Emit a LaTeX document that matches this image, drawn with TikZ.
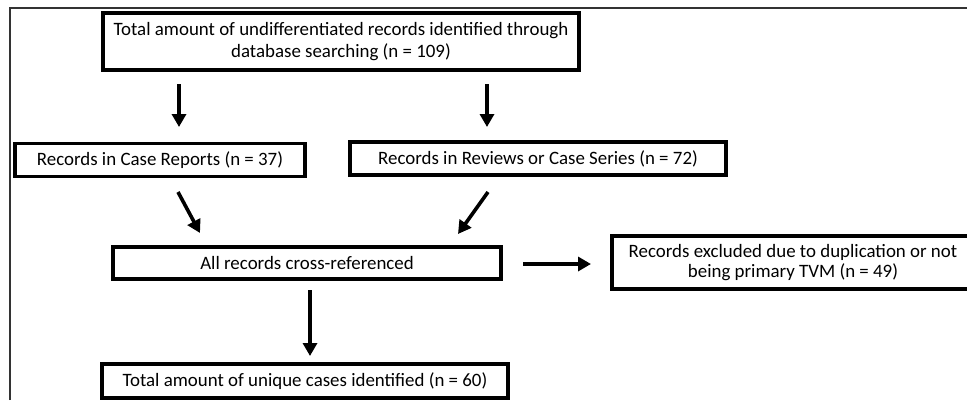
\documentclass[tikz,border=0pt]{standalone}
\usepackage{fontspec}
\setmainfont{Carlito}
\usetikzlibrary{arrows.meta}
\begin{document}
\begin{tikzpicture}[x=1pt,y=-1pt,
  box/.style={draw=black,line width=3.2pt,rectangle,inner sep=0pt,align=center,
    font=\fontsize{18.9}{22}\selectfont,text=black},
  arr/.style={line width=3.6pt,-{Triangle[width=14pt,length=13pt]}}]
\useasboundingbox (0,0) rectangle (967,400);
\draw[line width=1.8pt,black!80] (10,400) -- (10,8) -- (967,8);
\node[box,minimum width=476pt,minimum height=57pt] (top) at (341,41.5)
  {Total amount of undifferentiated records identified through\\database searching (n = 109)};
\node[box,minimum width=290pt,minimum height=33pt] (cr) at (160,160) {Records in Case Reports (n = 37)};
\node[box,minimum width=376pt,minimum height=33pt] (rv) at (538,158.5) {Records in Reviews or Case Series (n = 72)};
\node[box,minimum width=388pt,minimum height=32pt] (all) at (307,263) {All records cross-referenced};
\node[box,minimum width=362pt,minimum height=53pt] (ex) at (793,262.5)
  {\raisebox{-2pt}{\shortstack{Records excluded due to duplication or not\\being primary TVM (n = 49)}}};
\node[box,minimum width=406pt,minimum height=34pt] (fin) at (305,381) {Total amount of unique cases identified (n = 60)};
\coordinate (a1s) at (179,84); \coordinate (a1e) at (179,127);
\coordinate (a2s) at (487,84); \coordinate (a2e) at (487,127);
\coordinate (a3s) at (178,192); \coordinate (a3e) at (200,233);
\coordinate (a4s) at (488,192); \coordinate (a4e) at (458,234);
\coordinate (a5s) at (523,264); \coordinate (a5e) at (591,264);
\coordinate (a6s) at (310,290); \coordinate (a6e) at (310,356);
\draw[arr] (a1s) -- (a1e);
\draw[arr] (a2s) -- (a2e);
\draw[arr] (a3s) -- (a3e);
\draw[arr] (a4s) -- (a4e);
\draw[arr] (a5s) -- (a5e);
\draw[arr] (a6s) -- (a6e);
\end{tikzpicture}
\end{document}
